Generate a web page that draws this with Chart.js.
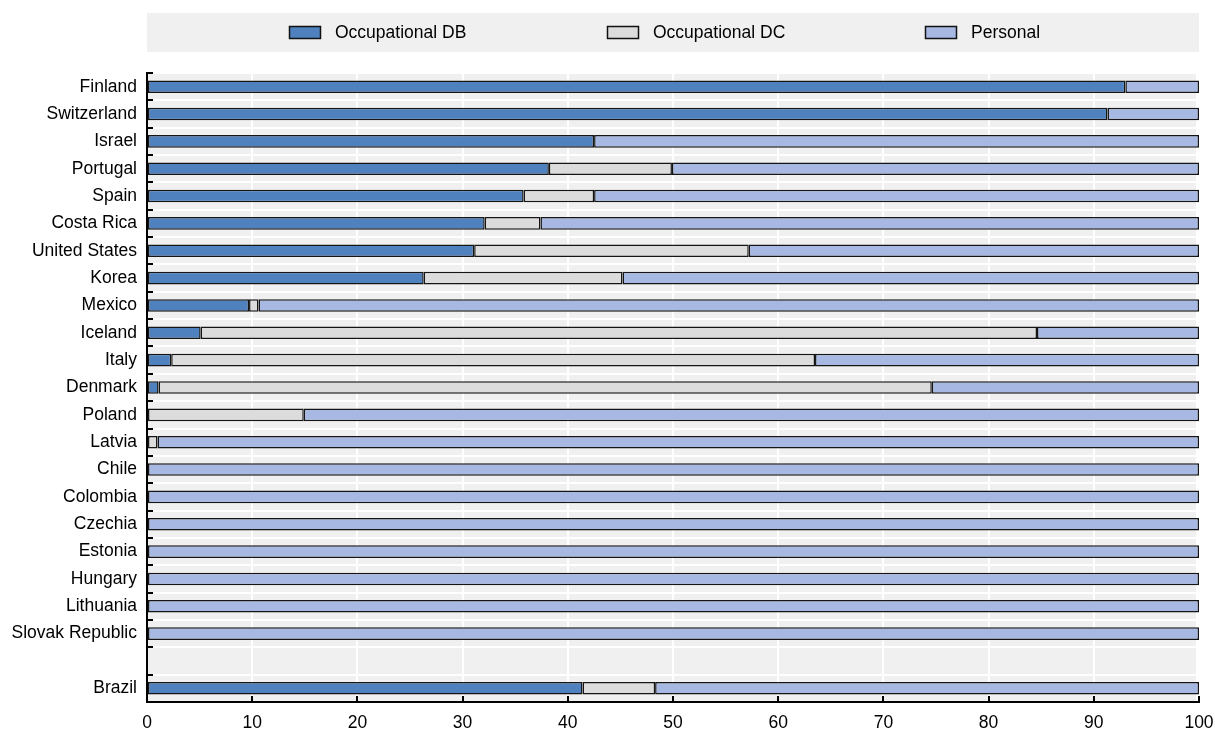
<!DOCTYPE html>
<html>
<head>
<meta charset="utf-8">
<script src="https://cdn.jsdelivr.net/npm/chart.js@4.4.1/dist/chart.umd.min.js"></script>
<style>
    body { margin: 0; background: #fff; }
    #wrap { width: 1215px; height: 738px; position: relative; }
</style>
</head>
<body>
<div id="wrap"><canvas id="pension-chart"></canvas></div>
<script>
var countries = [
    'Finland', 'Switzerland', 'Israel', 'Portugal', 'Spain', 'Costa Rica',
    'United States', 'Korea', 'Mexico', 'Iceland', 'Italy', 'Denmark',
    'Poland', 'Latvia', 'Chile', 'Colombia', 'Czechia', 'Estonia',
    'Hungary', 'Lithuania', 'Slovak Republic', '', 'Brazil'
];
var occupationalDB = [93.0, 91.3, 42.5, 38.2, 35.8, 32.1, 31.1, 26.3, 9.7, 5.1, 2.3, 1.1,
    null, null, null, null, null, null, null, null, null, null, 41.4];
var occupationalDC = [null, null, null, 11.7, 6.7, 5.3, 26.1, 18.9, 0.9, 79.5, 61.2, 73.5,
    14.9, 1.0, null, null, null, null, null, null, null, null, 6.9];
var personal = [7.0, 8.7, 57.5, 50.1, 57.5, 62.6, 42.8, 54.8, 89.4, 15.4, 36.5, 25.4,
    85.1, 99.0, 100, 100, 100, 100, 100, 100, 100, null, 51.7];
var seriesNames = ['Occupational DB', 'Occupational DC', 'Personal'];
var seriesColors = ['#4e81bd', '#dcdcdc', '#a7b8e3'];
var xTicks = [0, 10, 20, 30, 40, 50, 60, 70, 80, 90, 100];

var FONT = '"Liberation Sans", Arial, sans-serif';
var FSIZE = 17.5;

// grey panels behind the legend and the plot, plus the little inward ticks
var decorPlugin = {
    id: 'decor',
    beforeDraw: function (chart) {
        var ctx = chart.ctx, a = chart.chartArea;
        ctx.save();
        ctx.fillStyle = '#f0f0f0';
        ctx.fillRect(a.left, 13, a.right - a.left, 39);
        ctx.fillRect(a.left, a.top, a.right - a.left - 3, a.bottom - a.top);
        ctx.restore();
    },
    afterDraw: function (chart) {
        var ctx = chart.ctx, a = chart.chartArea;
        var y = chart.scales.y, x = chart.scales.x;
        ctx.save();
        ctx.strokeStyle = '#000';
        ctx.lineWidth = 2;
        var n = countries.length;
        for (var i = 0; i <= n; i++) {
            var py = y.top + i * (y.bottom - y.top) / n;
            ctx.beginPath();
            ctx.moveTo(a.left, Math.round(py));
            ctx.lineTo(a.left + 6, Math.round(py));
            ctx.stroke();
        }
        xTicks.forEach(function (v) {
            var px = Math.round(x.getPixelForValue(v));
            ctx.beginPath();
            ctx.moveTo(px, a.bottom);
            ctx.lineTo(px, a.bottom - 6);
            ctx.stroke();
        });

        // legend
        var startX = [289, 607, 925];
        ctx.font = FSIZE + 'px ' + FONT;
        ctx.textBaseline = 'middle';
        ctx.textAlign = 'left';
        for (var s = 0; s < 3; s++) {
            ctx.fillStyle = seriesColors[s];
            ctx.fillRect(startX[s], 26, 32, 13);
            ctx.lineWidth = 1.5;
            ctx.strokeStyle = '#111';
            ctx.strokeRect(startX[s] + 0.5, 26.5, 31, 12);
            ctx.fillStyle = '#000';
            ctx.fillText(seriesNames[s], startX[s] + 46, 33);
        }
        ctx.restore();
    }
};

function makeSet(i, values) {
    return {
        label: seriesNames[i],
        data: values,
        backgroundColor: seriesColors[i],
        borderColor: '#151515',
        borderWidth: 1.5,
        borderSkipped: false,
        categoryPercentage: 1,
        barPercentage: 0.46
    };
}

new Chart(document.getElementById('pension-chart'), {
    type: 'bar',
    data: {
        labels: countries,
        datasets: [
            makeSet(0, occupationalDB),
            makeSet(1, occupationalDC),
            makeSet(2, personal)
        ]
    },
    options: {
        indexAxis: 'y',
        responsive: true,
        maintainAspectRatio: false,
        animation: false,
        layout: { padding: { top: 73, right: 0, left: 0, bottom: 0 } },
        plugins: {
            legend: { display: false },
            tooltip: { enabled: false }
        },
        scales: {
            x: {
                stacked: true,
                min: 0,
                max: 100,
                afterFit: function (scale) {
                    scale.height = 36;
                    scale.paddingRight = 16;
                    scale.paddingLeft = 0;
                },
                afterBuildTicks: function (scale) {
                    scale.ticks = xTicks.map(function (v) { return { value: v }; });
                },
                grid: { color: '#ffffff', lineWidth: 2, drawTicks: false },
                border: { color: '#000', width: 2 },
                ticks: {
                    padding: 11,
                    color: '#000',
                    font: { family: FONT, size: FSIZE },
                    maxRotation: 0
                }
            },
            y: {
                stacked: true,
                afterFit: function (scale) { scale.width = 147; },
                grid: { color: '#ffffff', lineWidth: 2, drawTicks: false, offset: true },
                border: { color: '#000', width: 2 },
                ticks: {
                    padding: 10,
                    color: '#000',
                    autoSkip: false,
                    font: { family: FONT, size: FSIZE }
                }
            }
        }
    },
    plugins: [decorPlugin]
});
</script>
</body>
</html>
